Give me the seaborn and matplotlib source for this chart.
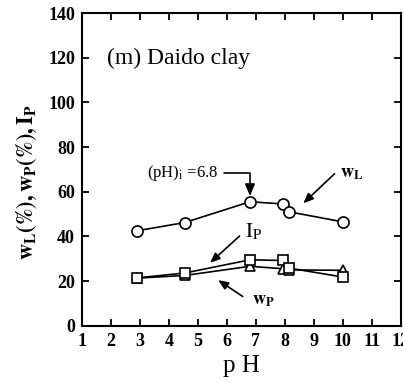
import matplotlib
matplotlib.use("Agg")
import matplotlib.pyplot as plt
import seaborn as sns
import pandas as pd

# Consistency limits of Daido clay against pH
ph = [2.9, 4.55, 6.8, 7.95, 8.15, 10.0]
w_liquid = [42.5, 46.2, 55.5, 54.5, 51.0, 46.5]
w_plastic = [21.3, 22.5, 26.6, 25.5, 25.0, 24.8]
i_plastic = [21.4, 23.6, 29.5, 29.2, 25.8, 21.8]

x_ticks = list(range(1, 13))
y_ticks = list(range(0, 141, 20))

sns.set_style("ticks")
plt.rcParams["font.family"] = ["Liberation Serif", "DejaVu Serif"]
plt.rcParams["mathtext.fontset"] = "stix"
plt.rcParams["text.color"] = "black"
plt.rcParams["axes.labelcolor"] = "black"
plt.rcParams["xtick.color"] = "black"
plt.rcParams["ytick.color"] = "black"

fig = plt.figure(figsize=(4.03, 3.83), dpi=100)
ax = fig.add_axes([0.2035, 0.1496, 0.7905, 0.8164])

df = pd.DataFrame({"pH": ph, "wL": w_liquid, "wP": w_plastic, "IP": i_plastic})

common = dict(color="black", linewidth=1.2, markerfacecolor="white",
              markeredgecolor="black", markeredgewidth=1.2, ax=ax)
sns.lineplot(data=df, x="pH", y="wP", marker="^", markersize=6.5, **common)
sns.lineplot(data=df, x="pH", y="IP", marker="s", markersize=6.5, **common)
sns.lineplot(data=df, x="pH", y="wL", marker="o", markersize=8, **common)

ax.set_xlim(1, 12)
ax.set_ylim(0, 140)
ax.set_xticks(x_ticks)
ax.set_yticks(y_ticks)
ax.tick_params(direction="in", length=5, width=1.3, top=True, right=True,
               labelsize=13, pad=5)
for lab in ax.get_xticklabels() + ax.get_yticklabels():
    lab.set_fontweight("bold")
for s in ax.spines.values():
    s.set_linewidth(1.5)
    s.set_color("black")

ax.set_xlabel("p H", fontsize=18)
ax.set_ylabel(r"$\mathbf{w}_{\mathbf{L}}\mathbf{(\%),w}_{\mathbf{P}}\mathbf{(\%),I}_{\mathbf{P}}$",
              fontsize=16)
ax.xaxis.set_label_coords(0.502, -0.093)
ax.yaxis.set_label_coords(-0.135, 0.46)

ax.text(1.86, 119.8, "(m) Daido clay", fontsize=17, ha="left", va="center")

arrow = dict(arrowstyle="-|>,head_length=0.6,head_width=0.25", color="black",
             lw=1.2, shrinkA=2, shrinkB=0)

ax.annotate(r"(pH)$_{\mathrm{i}}$ =6.8", xy=(6.8, 58.0), xytext=(3.24, 68.3),
            fontsize=12, ha="left", va="center",
            arrowprops=dict(arrow, connectionstyle="angle,angleA=0,angleB=90,rad=0"))
ax.annotate("", xy=(8.64, 54.8), xytext=(9.79, 68.9), arrowprops=arrow)
ax.text(9.91, 68.3, r"$\mathbf{w}_{\mathbf{L}}$", fontsize=13, ha="left", va="center")
ax.annotate("", xy=(5.42, 28.1), xytext=(6.51, 41.0), arrowprops=arrow)
ax.text(6.63, 41.9, r"$\mathrm{I}_{\mathrm{P}}$", fontsize=15, ha="left", va="center")
ax.annotate("", xy=(5.70, 20.4), xytext=(6.63, 12.4), arrowprops=arrow)
ax.text(6.87, 11.5, r"$\mathbf{w}_{\mathbf{P}}$", fontsize=13, ha="left", va="center")

fig.savefig("out.png", dpi=100)
